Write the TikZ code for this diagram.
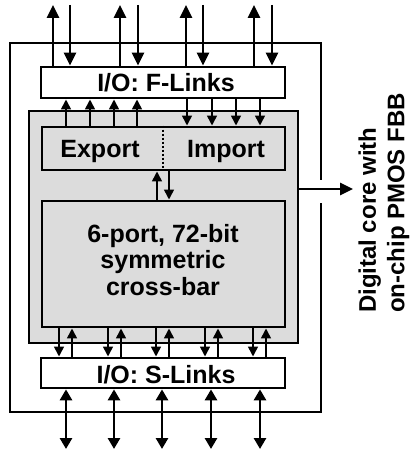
\documentclass[tikz,border=0pt]{standalone}
\usepackage{fontspec}
\setmainfont{Liberation Sans}
\usetikzlibrary{arrows.meta}
\definecolor{boxgray}{RGB}{220,220,220}
\begin{document}
\begin{tikzpicture}[x=1pt,y=-1pt,
  lw/.style={line width=2.7pt},
  box/.style={draw, lw, rectangle, inner sep=0pt},
  txt/.style={inner sep=0pt, font=\bfseries\fontsize{25}{26.5}\selectfont},
  bigtip/.style={-{Triangle[length=13pt,width=12pt]}},
  smalltip/.style={-{Triangle[length=10pt,width=9.5pt]}},
  dbltip/.style={{Triangle[length=11pt,width=12pt]}-{Triangle[length=11pt,width=12pt]}}
]
\useasboundingbox (0,0) rectangle (409,454);
% outer frame with gap for output arrow
\draw[lw] (321,180) -- (321,43) -- (10,43) -- (10,412) -- (321,412) -- (321,203);
% boxes
\node[box, fill=boxgray, minimum width=269pt, minimum height=232pt] (core) at (163.5,227) {};
\node[box, fill=white, minimum width=244pt, minimum height=31pt] (flink) at (163,82.5) {};
\node[box, fill=boxgray, minimum width=243pt, minimum height=43pt] (ei) at (163.5,148.5) {};
\node[box, fill=boxgray, minimum width=243pt, minimum height=126pt] (xbar) at (163.5,264) {};
\node[box, fill=white, minimum width=244pt, minimum height=30pt] (slink) at (163,373) {};
% texts
\node[txt, anchor=base] (flinkt) at (166,92) {I/O: F-Links};
\node[txt, anchor=base] (exp) at (100,157.5) {Export};
\node[txt, anchor=base] (imp) at (226,157.5) {Import};
\node[txt, align=center] (xbart) at (163,260) {6-port, 72-bit\\symmetric\\cross-bar};
\node[txt, anchor=base] (slinkt) at (166,383) {I/O: S-Links};
\node[txt, rotate=90, align=left, font=\bfseries\fontsize{24}{28.5}\selectfont] (lbl) at (384,203) {Digital core with\\on-chip PMOS FBB};
% divider
\coordinate (dv) at (163,0);
\draw[line width=2pt, dash pattern=on 2pt off 2pt] (ei.north -| dv) -- (ei.south -| dv);
% top external arrows
\foreach \u/\d [count=\i] in {53/70,120/138,186/203,254/272} {
  \coordinate (tu\i) at (\u,5);
  \coordinate (td\i) at (\d,5);
  \draw[lw,bigtip] (flink.north -| tu\i) -- (tu\i);
  \draw[lw,bigtip] (td\i) -- (flink.north -| td\i);
}
% F-Links <-> Export/Import
\foreach \x [count=\i] in {66,90,114,137} {
  \coordinate (eu\i) at (\x,0);
  \draw[lw,smalltip] (ei.north -| eu\i) -- (flink.south -| eu\i);
}
\foreach \x [count=\i] in {187,212,236,260} {
  \coordinate (id\i) at (\x,0);
  \draw[lw,smalltip] (flink.south -| id\i) -- (ei.north -| id\i);
}
% Export/Import <-> crossbar
\coordinate (cu) at (157,0);
\coordinate (cd) at (169,0);
\draw[lw,smalltip] (xbar.north -| cu) -- (ei.south -| cu);
\draw[lw,smalltip] (ei.south -| cd) -- (xbar.north -| cd);
% crossbar <-> S-Links
\foreach \d/\u [count=\i] in {59/72,108/121,156/169,205/218,253/266} {
  \coordinate (sd\i) at (\d,0);
  \coordinate (su\i) at (\u,0);
  \draw[lw,smalltip] (xbar.south -| sd\i) -- (slink.north -| sd\i);
  \draw[lw,smalltip] (slink.north -| su\i) -- (xbar.south -| su\i);
}
% bottom external bidirectional arrows
\foreach \x [count=\i] in {66,114,162,211,260} {
  \coordinate (b\i) at (\x,449);
  \draw[lw,dbltip] (slink.south -| b\i) -- (b\i);
}
% output arrow
\coordinate (dig) at (353,189);
\draw[lw,bigtip] (core.east |- dig) -- (dig);
\end{tikzpicture}
\end{document}
